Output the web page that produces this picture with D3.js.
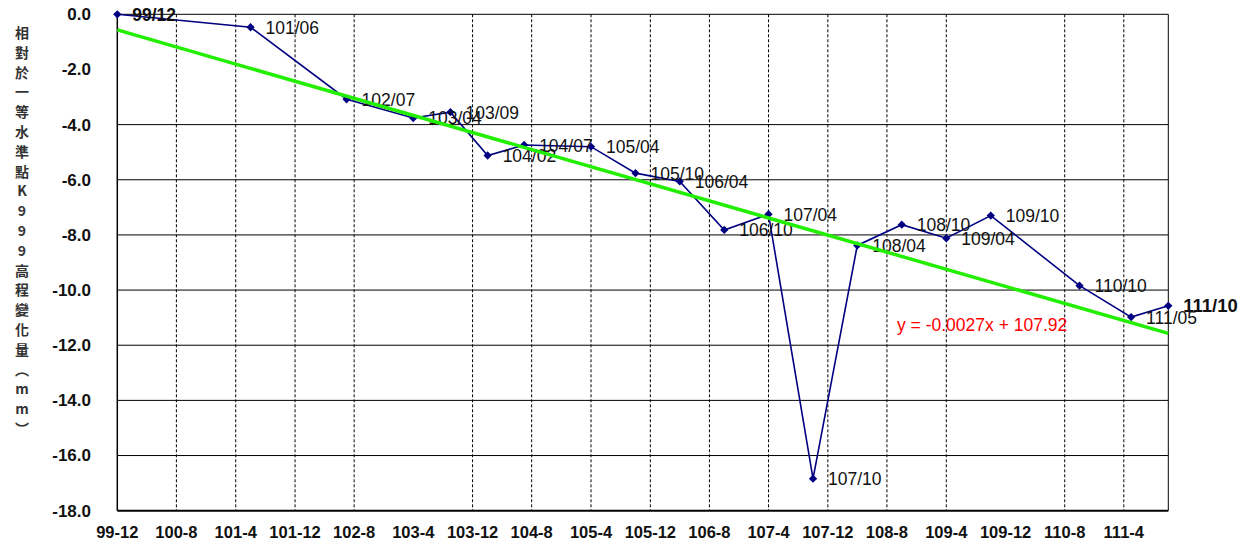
<!DOCTYPE html>
<html>
<head>
<meta charset="utf-8">
<script src="https://cdn.jsdelivr.net/npm/d3@7"></script>
<style>
  html, body { margin: 0; padding: 0; background: #fff; }
  svg { display: block; font-family: "Liberation Sans", Arial, sans-serif; }
</style>
</head>
<body>
<svg id="chart" width="1258" height="548"></svg>
<script>
// Survey epochs (ROC year/month) and elevation change in mm
const epochs = ["99/12", "101/06", "102/07", "103/04", "103/09", "104/02", "104/07",
  "105/04", "105/10", "106/04", "106/10", "107/04", "107/10", "108/04", "108/10",
  "109/04", "109/10", "110/10", "111/05", "111/10"];
const changes = [0.0, -0.47, -3.08, -3.76, -3.55, -5.12, -4.74,
  -4.80, -5.76, -6.06, -7.82, -7.25, -16.84, -8.38, -7.63,
  -8.12, -7.30, -9.84, -10.98, -10.57];

// Axis ticks
const xTickLabels = ["99-12", "100-8", "101-4", "101-12", "102-8", "103-4", "103-12",
  "104-8", "105-4", "105-12", "106-8", "107-4", "107-12", "108-8", "109-4",
  "109-12", "110-8", "111-4"];
const yTicks = [0, -2, -4, -6, -8, -10, -12, -14, -16, -18];
// ticks drawn without a gridline
const xGridGaps = ["103-4", "109-12"];
const yGridGaps = [-2];

const yTitleChars = ["相", "對", "於", "一", "等", "水", "準", "點", "K", "9", "9", "9",
  "高", "程", "變", "化", "量", "︵", "m", "m", "︶"];
const equationText = "y = -0.0027x + 107.92";

// ROC calendar -> Date
const rocDate = (s, sep) => {
  const [y, m] = s.split(sep).map(Number);
  return new Date(y + 1911, m - 1, 1);
};
const points = epochs.map((e, i) => ({ label: e, date: rocDate(e, "/"), value: changes[i] }));

const svg = d3.select("#chart");
const plot = { left: 117.3, right: 1168.3, top: 14.3, bottom: 510.7 };

const x = d3.scaleTime()
  .domain([points[0].date, points[points.length - 1].date])
  .range([plot.left, plot.right]);
const y = d3.scaleLinear().domain([-18, 0]).range([plot.bottom, plot.top]);

// Horizontal gridlines
svg.append("g").selectAll("line")
  .data(yTicks.filter(v => !yGridGaps.includes(v) && v !== -18))
  .join("line")
  .attr("x1", plot.left).attr("x2", plot.right)
  .attr("y1", d => y(d)).attr("y2", d => y(d))
  .attr("stroke", "#000").attr("stroke-width", 1);

// Vertical dashed gridlines
const xTicks = xTickLabels.map(t => ({ text: t, date: rocDate(t, "-") }));
svg.append("g").selectAll("line")
  .data(xTicks.filter(t => !xGridGaps.includes(t.text) && t.date > x.domain()[0]))
  .join("line")
  .attr("x1", d => x(d.date)).attr("x2", d => x(d.date))
  .attr("y1", plot.top).attr("y2", plot.bottom)
  .attr("stroke", "#000").attr("stroke-width", 1)
  .attr("stroke-dasharray", "3,2");

// Plot frame
svg.append("line").attr("x1", plot.right).attr("x2", plot.right)
  .attr("y1", plot.top).attr("y2", plot.bottom).attr("stroke", "#000").attr("stroke-width", 1);
svg.append("line").attr("x1", plot.left).attr("x2", plot.left)
  .attr("y1", plot.top).attr("y2", plot.bottom).attr("stroke", "#000").attr("stroke-width", 1.5);
svg.append("line").attr("x1", plot.left).attr("x2", plot.right)
  .attr("y1", plot.bottom).attr("y2", plot.bottom).attr("stroke", "#000").attr("stroke-width", 2);

// Y tick labels
svg.append("g").selectAll("text")
  .data(yTicks)
  .join("text")
  .attr("x", 91).attr("y", d => y(d))
  .attr("dy", "0.35em")
  .attr("text-anchor", "end")
  .attr("font-size", 17).attr("font-weight", "bold").attr("fill", "#111")
  .text(d => d.toFixed(1));

// X tick labels
svg.append("g").selectAll("text")
  .data(xTicks)
  .join("text")
  .attr("x", d => x(d.date)).attr("y", 538)
  .attr("text-anchor", "middle")
  .attr("font-size", 16.5).attr("font-weight", "bold").attr("fill", "#111")
  .text(d => d.text);

// Vertical axis title, one glyph per row
svg.append("g").selectAll("text")
  .data(yTitleChars)
  .join("text")
  .attr("x", 22).attr("y", (d, i) => 33 + i * 19.8)
  .attr("dy", "0.35em")
  .attr("text-anchor", "middle")
  .attr("font-family", "'Noto Sans CJK TC', 'Noto Sans CJK SC', sans-serif")
  .attr("font-size", 14).attr("font-weight", "bold").attr("fill", "#333")
  .text(d => d);

// Series line and markers
const line = d3.line().x(d => x(d.date)).y(d => y(d.value));
svg.append("path").datum(points)
  .attr("d", line).attr("fill", "none")
  .attr("stroke", "#000080").attr("stroke-width", 1.6);
svg.append("g").selectAll("path")
  .data(points)
  .join("path")
  .attr("transform", d => `translate(${x(d.date)},${y(d.value)})`)
  .attr("d", d3.symbol(d3.symbolDiamond2, 44))
  .attr("fill", "#000080");

// Data labels
const last = points.length - 1;
svg.append("g").selectAll("text")
  .data(points)
  .join("text")
  .attr("x", d => x(d.date) + 15)
  .attr("y", d => y(d.value) + 6.5)
  .attr("font-size", (d, i) => i === last ? 18.5 : 17.5)
  .attr("font-weight", (d, i) => (i === 0 || i === last) ? "bold" : "normal")
  .attr("fill", "#111")
  .text(d => d.label);

// Least-squares linear trend over time
const xs = points.map(d => +d.date), ys = points.map(d => d.value);
const mx = d3.mean(xs), my = d3.mean(ys);
const slope = d3.sum(xs, (v, i) => (v - mx) * (ys[i] - my)) / d3.sum(xs, v => (v - mx) ** 2);
const intercept = my - slope * mx;
const trendEnds = x.domain().map(dt => ({ date: dt, value: intercept + slope * (+dt) }));
svg.append("path").datum(trendEnds)
  .attr("d", line).attr("fill", "none")
  .attr("stroke", "#22ee00").attr("stroke-width", 3.5);

svg.append("text")
  .attr("x", 897).attr("y", 331)
  .attr("font-size", 17.5).attr("fill", "#ff0000")
  .text(equationText);
</script>
</body>
</html>
